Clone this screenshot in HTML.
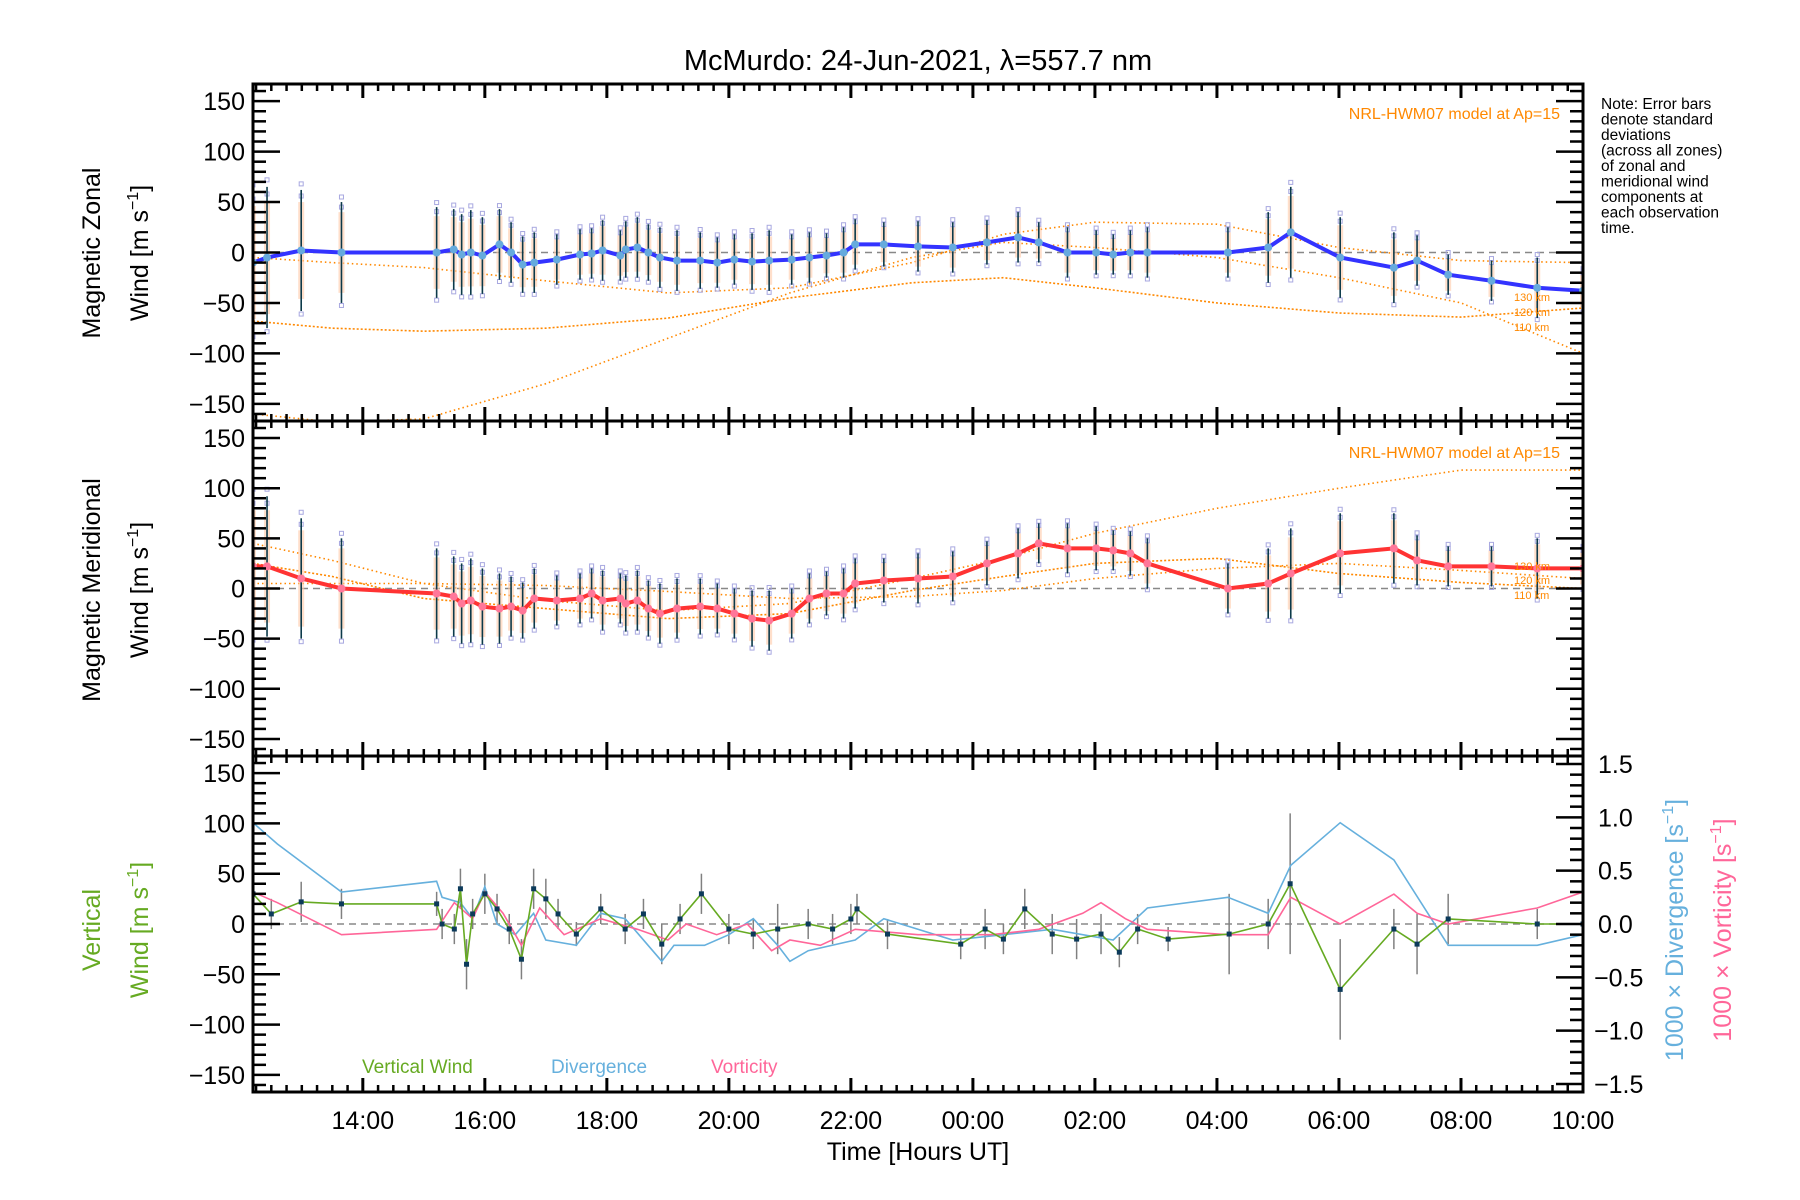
<!DOCTYPE html>
<html><head><meta charset="utf-8"><style>
html,body{margin:0;padding:0;background:#fff;}
svg{display:block;font-family:"Liberation Sans",sans-serif;}
</style></head><body>
<svg id="chart" width="1800" height="1200" xmlns="http://www.w3.org/2000/svg">
<rect width="1800" height="1200" fill="#fff"/>
<text x="918" y="70" font-size="29" text-anchor="middle">McMurdo: 24-Jun-2021, λ=557.7 nm</text>
<g font-size="15.5" fill="#000">
<text x="1601" y="109">Note: Error bars</text>
<text x="1601" y="124.5">denote standard</text>
<text x="1601" y="140">deviations</text>
<text x="1601" y="155.5">(across all zones)</text>
<text x="1601" y="171">of zonal and</text>
<text x="1601" y="186.5">meridional wind</text>
<text x="1601" y="202">components at</text>
<text x="1601" y="217.5">each observation</text>
<text x="1601" y="233">time.</text>
</g>
<g id="plots"></g>
</svg>
<script>
// ---- data (time in hours from 00:00 on 24-Jun; values in m/s) ----
const tWind = [12.2,12.43,12.99,13.65,15.21,15.49,15.62,15.77,15.96,16.24,16.43,16.62,16.81,17.18,17.56,17.75,17.93,18.22,18.31,18.5,18.68,18.87,19.15,19.53,19.81,20.09,20.38,20.66,21.03,21.32,21.6,21.88,22.07,22.54,23.1,23.67,24.23,24.74,25.08,25.55,26.02,26.3,26.58,26.86,28.18,28.84,29.21,30.02,30.9,31.28,31.79,32.5,33.25,34.0];
const zonal = [-10,-5,2,0,0,3,-2,0,-3,8,0,-12,-10,-7,-2,-1,2,-3,3,5,0,-5,-8,-8,-10,-7,-9,-8,-7,-5,-3,0,8,8,6,5,10,15,10,0,0,-2,0,0,0,5,20,-5,-15,-8,-22,-28,-35,-38];
const meridional = [22,22,10,0,-5,-8,-15,-12,-18,-20,-18,-22,-10,-12,-10,-5,-12,-10,-15,-12,-20,-25,-20,-18,-20,-25,-30,-32,-25,-10,-5,-5,5,8,10,12,25,35,45,40,40,38,35,25,0,5,15,35,40,28,22,22,20,20];
const windErr = [70,70,60,50,45,40,40,42,38,35,30,28,30,25,25,25,30,25,28,30,28,30,30,28,25,25,28,30,25,25,22,25,25,22,25,25,22,25,20,25,22,20,22,25,25,35,45,40,35,25,20,20,30,20];
const tModel = [12.2,13.5,15,17,19,21,23,24.5,26,28,30,32,34];
const zonal130 = [-5,-10,-15,-28,-40,-35,-10,18,30,28,5,-8,-10];
const zonal120 = [-68,-75,-78,-75,-65,-45,-30,-25,-35,-50,-60,-64,-55];
const zonal110 = [-160,-168,-165,-130,-85,-40,-5,10,5,-5,-25,-50,-100];
const merid110 = [45,28,5,-12,-22,-15,10,30,55,80,100,118,118];
const merid120 = [25,12,-10,-20,-30,-25,-2,12,25,30,15,6,0];
const merid130 = [5,5,5,3,-3,-10,-8,-2,10,20,25,18,10];
const tVert = [12.2,12.5,12.99,13.65,15.21,15.3,15.5,15.6,15.7,15.8,16.0,16.2,16.4,16.6,16.8,17.0,17.2,17.5,17.9,18.3,18.6,18.9,19.2,19.55,20.0,20.4,20.8,21.3,21.7,22.0,22.1,22.6,23.8,24.2,24.5,24.85,25.3,25.7,26.1,26.4,26.7,27.2,28.2,28.84,29.2,30.02,30.9,31.28,31.79,33.25,34.0];
const vertical = [30,10,22,20,20,0,-5,35,-40,10,30,15,-5,-35,35,25,10,-10,15,-5,10,-20,5,30,-5,-10,-5,0,-5,5,15,-10,-20,-5,-15,15,-10,-15,-10,-28,-5,-15,-10,0,40,-65,-5,-20,5,0,0];
const vertErr = [15,15,20,15,12,15,15,20,25,15,20,15,15,20,20,20,15,12,15,15,15,20,15,20,15,15,25,15,15,15,15,15,15,20,15,20,20,20,20,15,15,12,40,25,70,50,20,30,25,15,10];
const tDiv = [12.2,12.6,13.65,15.21,15.3,15.6,15.8,16.0,16.2,16.5,16.8,17.0,17.5,17.9,18.3,18.9,19.1,19.6,20.0,20.4,20.8,21.0,21.3,22.07,22.54,23.67,24.5,25.3,26.3,26.86,28.18,28.84,29.21,30.02,30.9,31.79,33.25,34.0];
const divergence = [0.95,0.75,0.3,0.4,0.25,0.2,0.05,0.35,0.0,-0.1,0.1,-0.15,-0.2,0.1,0.05,-0.35,-0.2,-0.2,-0.1,0.05,-0.2,-0.35,-0.25,-0.15,0.05,-0.15,-0.1,-0.05,-0.15,0.15,0.25,0.1,0.55,0.95,0.6,-0.2,-0.2,-0.1];
const tVort = [12.2,12.6,13.65,15.21,15.5,15.8,16.0,16.3,16.6,16.9,17.3,17.9,18.5,19.0,19.3,19.8,20.3,20.7,21.0,21.5,22.07,23.1,24.3,25.08,25.8,26.1,26.5,26.86,28.18,28.84,29.21,30.02,30.9,31.28,31.79,33.25,34.0];
const vorticity = [0.3,0.2,-0.1,-0.05,0.2,0.05,0.3,0.1,-0.2,0.15,-0.1,0.05,-0.05,-0.15,0.0,-0.1,0.0,-0.25,-0.15,-0.2,-0.05,-0.1,-0.1,-0.05,0.1,0.2,0.05,-0.05,-0.1,-0.1,0.25,0.0,0.28,0.1,0.0,0.15,0.3];
const xTickLabels = ["14:00","16:00","18:00","20:00","22:00","00:00","02:00","04:00","06:00","08:00","10:00"];
const xTickHours = [14,16,18,20,22,24,26,28,30,32,34];
const yTickVals = [150,100,50,0,-50,-100,-150];
const rTickVals = [1.5,1.0,0.5,0.0,-0.5,-1.0,-1.5];

// ---- layout ----
const X0=253, X1=1583, TMIN=12.2, TMAX=34.0;
const panels=[[84,421],[421,756],[756,1092]];
const VR=167, RR=1.575;
const NS='http://www.w3.org/2000/svg';
const root=document.getElementById('plots');
function xs(t){return X0+(t-TMIN)/(TMAX-TMIN)*(X1-X0);}
function ys(v,p){const [a,b]=panels[p];return (a+b)/2-v/VR*(b-a)/2;}
function yr(v){const [a,b]=panels[2];return (a+b)/2-v/RR*(b-a)/2;}
function mk(tag,at,parent){const e=document.createElementNS(NS,tag);for(const k in at)e.setAttribute(k,at[k]);(parent||root).appendChild(e);return e;}
function txt(s,at,parent){const e=mk('text',at,parent);e.textContent=s;return e;}
function poly(ts,vs,fn,at,name){const pts=ts.map((t,i)=>xs(t).toFixed(1)+','+fn(vs[i]).toFixed(1)).join(' ');const e=mk('polyline',Object.assign({points:pts,fill:'none'},at));


return e;}

const defs=mk('defs',{});
panels.forEach((p,i)=>{const c=mk('clipPath',{id:'c'+i},defs);mk('rect',{x:X0,y:p[0],width:X1-X0,height:p[1]-p[0]},c);});

panels.forEach((p,pi)=>{
  const g=mk('g',{'clip-path':'url(#c'+pi+')'});
  
  
  mk('line',{x1:X0,x2:X1,y1:ys(0,pi),y2:ys(0,pi),stroke:'#888','stroke-width':1.5,'stroke-dasharray':'7,5'},g);
  if(pi<2){
    const vals=pi==0?zonal:meridional;
    const models=pi==0?[zonal130,zonal120,zonal110]:[merid110,merid120,merid130];
    models.forEach((m,mi)=>{const e=poly(tModel,m,v=>ys(v,pi),{stroke:'#ff8800','stroke-width':1.6,'stroke-dasharray':mi==1?'2,2':'1.5,3'},'model-curve-'+mi);g.appendChild(e);});
    tWind.forEach((t,i)=>{
      const x=xs(t);
      const r=mk('rect',{x:x-3,y:ys(vals[i]+windErr[i]*0.8,pi),width:6,height:ys(vals[i]-windErr[i]*0.8,pi)-ys(vals[i]+windErr[i]*0.8,pi),fill:'#ffc9a8',opacity:0.6},g);
      
      
      [1.1,-1.05,0.9].forEach(k=>{const s=mk('rect',{x:x-2,y:ys(vals[i]+windErr[i]*k,pi)-2,width:4,height:4,fill:'none',stroke:'#a8a8e0','stroke-width':1},g);
      
      });
      const l=mk('line',{x1:x,x2:x,y1:ys(vals[i]+windErr[i],pi),y2:ys(vals[i]-windErr[i],pi),stroke:'#0c3a4a','stroke-width':1.6},g);
      
      
    });
    g.appendChild(poly(tWind,vals,v=>ys(v,pi),{stroke:pi==0?'#3333ff':'#ff3333','stroke-width':4},pi==0?'zonal-wind-line':'meridional-wind-line'));
    tWind.forEach((t,i)=>{const c=mk('circle',{cx:xs(t),cy:ys(vals[i],pi),r:4,fill:pi==0?'#66aadd':'#ff7799'},g);
    
    });
  } else {
    tVert.forEach((t,i)=>{const l=mk('line',{x1:xs(t),x2:xs(t),y1:ys(vertical[i]+vertErr[i],2),y2:ys(vertical[i]-vertErr[i],2),stroke:'#808080','stroke-width':1.5},g);
    
    });
    g.appendChild(poly(tDiv,divergence,yr,{stroke:'#66b0dd','stroke-width':1.6},'divergence-line'));
    g.appendChild(poly(tVort,vorticity,yr,{stroke:'#ff6699','stroke-width':1.6},'vorticity-line'));
    g.appendChild(poly(tVert,vertical,v=>ys(v,2),{stroke:'#66aa22','stroke-width':1.6},'vertical-wind-line'));
    tVert.forEach((t,i)=>{const r=mk('rect',{x:xs(t)-2.5,y:ys(vertical[i],2)-2.5,width:5,height:5,fill:'#0c3a5a'},g);
    
    });
  }
  const ax=mk('g',{});
  
  
  mk('rect',{x:X0,y:p[0],width:X1-X0,height:p[1]-p[0],fill:'none',stroke:'#000','stroke-width':3},ax);
  for(let m=0;;m++){const t=12.25+m*0.25;if(t>TMAX)break;const x=xs(t);const major=Math.abs(t-Math.round(t/2)*2)<1e-6;const L=major?14:7;
    mk('line',{x1:x,x2:x,y1:p[0],y2:p[0]+L,stroke:'#000','stroke-width':major?3:2.5},ax);
    mk('line',{x1:x,x2:x,y1:p[1],y2:p[1]-L,stroke:'#000','stroke-width':major?3:2.5},ax);}
  for(let v=-160;v<=160;v+=10){const y=ys(v,pi);const major=v%50==0;const L=major?27:13;
    mk('line',{x1:X0,x2:X0+L,y1:y,y2:y,stroke:'#000','stroke-width':2.5},ax);
    if(pi<2)mk('line',{x1:X1,x2:X1-L,y1:y,y2:y,stroke:'#000','stroke-width':2.5},ax);}
  yTickVals.forEach(v=>{const e=txt(v<0?'−'+(-v):String(v),{x:X0-8,y:ys(v,pi)+9,'font-size':25,'text-anchor':'end'},ax);
  
  });
  if(pi==2){
    for(let k=-15;k<=15;k++){const v=k/10;const y=yr(v);const major=k%5==0;const L=major?27:13;
      mk('line',{x1:X1,x2:X1-L,y1:y,y2:y,stroke:'#000','stroke-width':2.5},ax);}
    rTickVals.forEach(v=>{const s=(v<0?'−':'')+Math.abs(v).toFixed(1);const e=txt(s,{x:v<0?1594:1598,y:yr(v)+9,'font-size':25},ax);
    
    });
  }
});
xTickHours.forEach((h,i)=>{const e=txt(xTickLabels[i],{x:xs(h),y:1129,'font-size':25,'text-anchor':'middle'});

});
</script>
<svg style="position:absolute;left:0;top:0" width="1800" height="1200" xmlns="http://www.w3.org/2000/svg" font-family="Liberation Sans, sans-serif">
<text x="918" y="1160" font-size="25" text-anchor="middle">Time [Hours UT]</text>
<g font-size="25" text-anchor="middle">
<text transform="translate(100,253) rotate(-90)">Magnetic Zonal</text>
<text transform="translate(148,253) rotate(-90)">Wind [m s<tspan font-size="16" dy="-10">−1</tspan><tspan dy="10">]</tspan></text>
</g>
<g font-size="25" text-anchor="middle">
<text transform="translate(100,590) rotate(-90)">Magnetic Meridional</text>
<text transform="translate(148,590) rotate(-90)">Wind [m s<tspan font-size="16" dy="-10">−1</tspan><tspan dy="10">]</tspan></text>
</g>
<g font-size="25" text-anchor="middle" fill="#66aa22">
<text transform="translate(100,930) rotate(-90)">Vertical</text>
<text transform="translate(148,930) rotate(-90)">Wind [m s<tspan font-size="16" dy="-10">−1</tspan><tspan dy="10">]</tspan></text>
</g>
<text transform="translate(1683,930) rotate(-90)" font-size="25" text-anchor="middle" fill="#66b0dd">1000 × Divergence [s<tspan font-size="16" dy="-10">−1</tspan><tspan dy="10">]</tspan></text>
<text transform="translate(1731,930) rotate(-90)" font-size="25" text-anchor="middle" fill="#ff6699">1000 × Vorticity [s<tspan font-size="16" dy="-10">−1</tspan><tspan dy="10">]</tspan></text>
<text x="362" y="1073" font-size="19" fill="#66aa22">Vertical Wind</text>
<text x="551" y="1073" font-size="19" fill="#66b0dd">Divergence</text>
<text x="711" y="1073" font-size="19" fill="#ff6699">Vorticity</text>
<text x="1560" y="119" font-size="16" text-anchor="end" fill="#ff8800">NRL-HWM07 model at Ap=15</text>
<text x="1560" y="458" font-size="16" text-anchor="end" fill="#ff8800">NRL-HWM07 model at Ap=15</text>
<g font-size="11" fill="#ff8800">
<text x="1514" y="301">130 km</text><text x="1514" y="316">120 km</text><text x="1514" y="331">110 km</text>
</g>
<g font-size="11" fill="#ff8800">
<text x="1514" y="570">130 km</text><text x="1514" y="584">120 km</text><text x="1514" y="599">110 km</text>
</g>
</svg>
</body></html>
